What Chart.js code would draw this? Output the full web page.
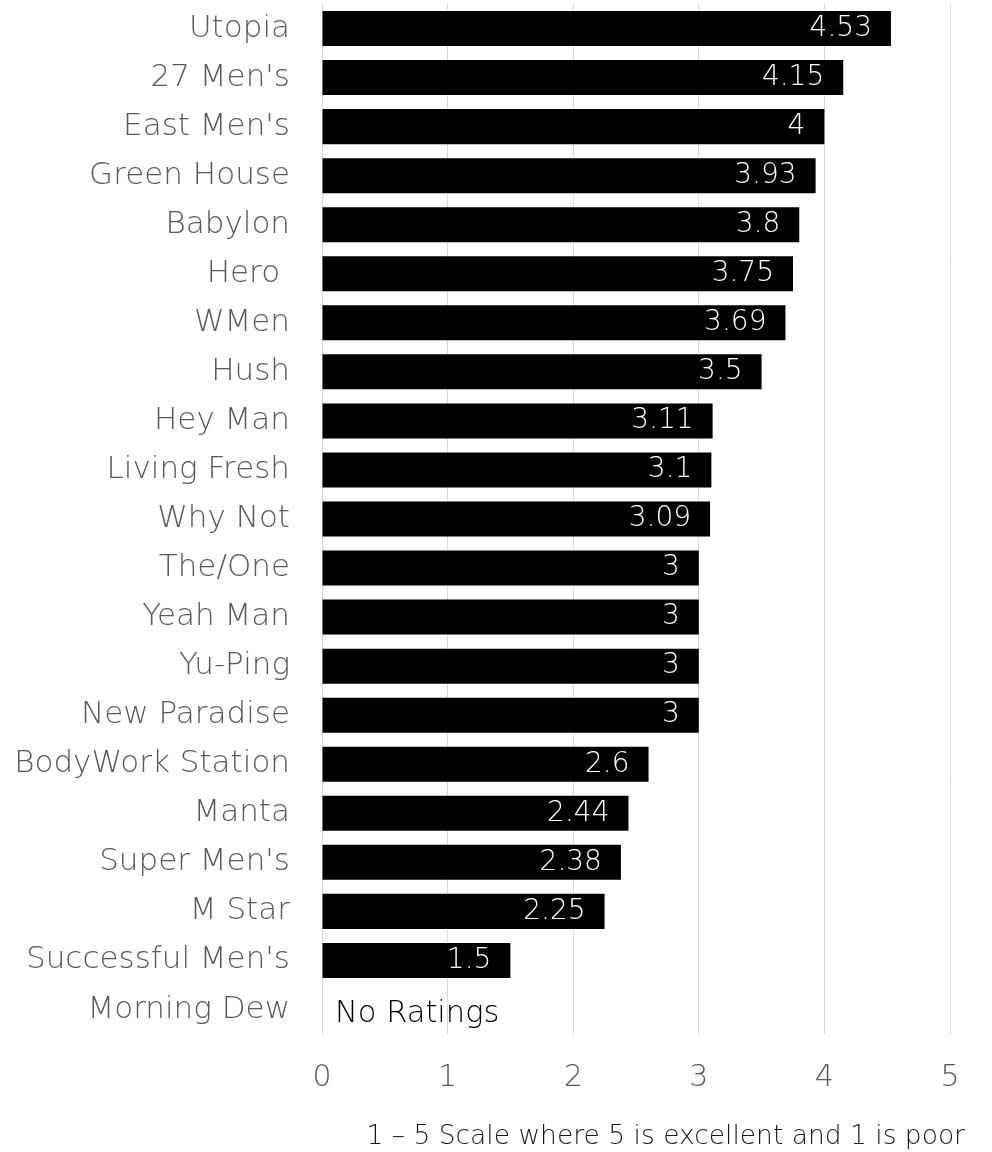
<!DOCTYPE html>
<html>
<head>
<meta charset="utf-8">
<title>Ratings</title>
<script src="https://cdn.jsdelivr.net/npm/chart.js@4.4.1/dist/chart.umd.min.js"></script>
<style>
  html, body { margin: 0; padding: 0; background: #fff; }
  #wrap { width: 992px; height: 1152px; }
</style>
</head>
<body>
<div id="wrap"><canvas id="chart" width="992" height="1152"></canvas></div>
<script>
// shops in the order shown, top to bottom
const shops = [
  'Utopia', "27 Men's", "East Men's", 'Green House', 'Babylon', 'Hero ', 'WMen',
  'Hush', 'Hey Man', 'Living Fresh', 'Why Not', 'The/One', 'Yeah Man', 'Yu-Ping',
  'New Paradise', 'BodyWork Station', 'Manta', "Super Men's", 'M Star',
  "Successful Men's", 'Morning Dew'
];
// average rating, null = no ratings
const ratings = [
  4.53, 4.15, 4, 3.93, 3.8, 3.75, 3.69, 3.5, 3.11, 3.1, 3.09,
  3, 3, 3, 3, 2.6, 2.44, 2.38, 2.25, 1.5, null
];
const xMin = 0;
const xMax = 5;
const noRatingText = 'No Ratings';
const scaleNote = '1 \u2013 5 Scale where 5 is excellent and 1 is poor';

const FONT = '"Century Gothic", "DejaVu Sans", sans-serif';
const GRAY = '#595959';

// white numbers inside the bar ends, "No Ratings" text, scale note
const labelPlugin = {
  id: 'labels',
  afterDatasetsDraw(chart) {
    const ctx = chart.ctx;
    const x = chart.scales.x;
    const y = chart.scales.y;
    ctx.save();
    ctx.textBaseline = 'middle';
    ratings.forEach((v, i) => {
      const cy = y.getPixelForValue(i);
      if (v === null) {
        ctx.font = '300 30.5px ' + FONT;
        ctx.fillStyle = '#000';
        ctx.textAlign = 'left';
        ctx.fillText(noRatingText, x.getPixelForValue(0) + 13, cy + 5);
      } else {
        ctx.font = '300 28px ' + FONT;
        ctx.fillStyle = '#fff';
        ctx.textAlign = 'right';
        ctx.fillText(String(v), x.getPixelForValue(v) - 19, cy);
      }
    });
    ctx.font = '300 26.5px ' + FONT;
    ctx.fillStyle = '#1a1a1a';
    ctx.textAlign = 'right';
    ctx.fillText(scaleNote, chart.chartArea.right + 15, chart.chartArea.bottom + 103);
    ctx.restore();
  }
};

new Chart(document.getElementById('chart'), {
  type: 'bar',
  data: {
    labels: shops,
    datasets: [{
      data: ratings,
      backgroundColor: '#000',
      borderWidth: 0,
      barPercentage: 0.714,
      categoryPercentage: 1
    }]
  },
  options: {
    indexAxis: 'y',
    responsive: false,
    animation: false,
    layout: { padding: { left: 0, right: 42, top: 4, bottom: 38 } },
    plugins: {
      legend: { display: false },
      tooltip: { enabled: false }
    },
    scales: {
      x: {
        min: xMin,
        max: xMax,
        border: { display: false },
        grid: { color: '#d9d9d9', lineWidth: 1, drawTicks: false },
        ticks: {
          stepSize: 1,
          padding: 26,
          color: GRAY,
          font: { family: FONT, size: 30, weight: '300' }
        },
        afterFit(scale) {
          scale.height = 80;
          scale.paddingLeft = 0;
          scale.paddingRight = 0;
        }
      },
      y: {
        border: { display: false },
        grid: { display: false, drawTicks: false },
        ticks: {
          padding: 32,
          color: GRAY,
          font: { family: FONT, size: 31, weight: '300' }
        },
        afterFit(scale) {
          scale.width = 322;
          scale.paddingTop = 0;
          scale.paddingBottom = 0;
        }
      }
    }
  },
  plugins: [labelPlugin]
});
</script>
</body>
</html>
